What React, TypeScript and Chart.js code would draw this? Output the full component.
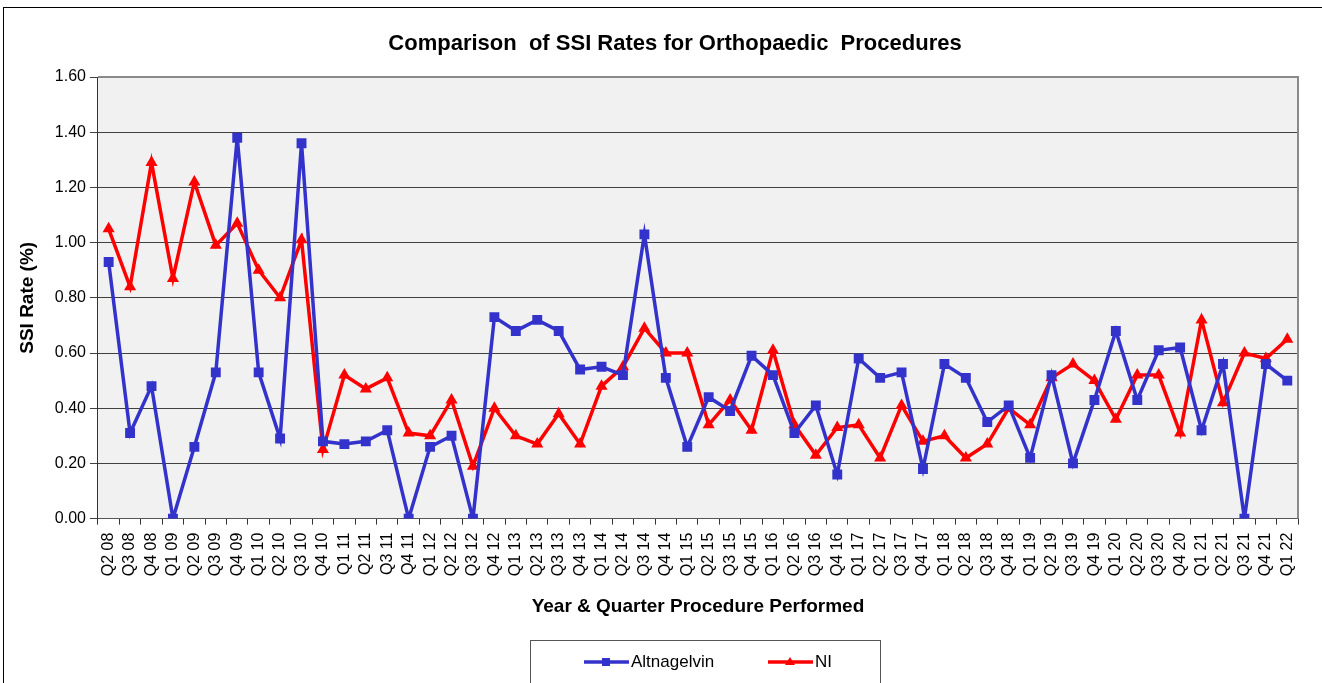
import React, { useEffect, useRef } from "react";
import { Chart, registerables } from "chart.js";

Chart.register(...registerables);

const quarters = [
  "Q2 08", "Q3 08", "Q4 08",
  "Q1 09", "Q2 09", "Q3 09", "Q4 09",
  "Q1 10", "Q2 10", "Q3 10", "Q4 10",
  "Q1 11", "Q2 11", "Q3 11", "Q4 11",
  "Q1 12", "Q2 12", "Q3 12", "Q4 12",
  "Q1 13", "Q2 13", "Q3 13", "Q4 13",
  "Q1 14", "Q2 14", "Q3 14", "Q4 14",
  "Q1 15", "Q2 15", "Q3 15", "Q4 15",
  "Q1 16", "Q2 16", "Q3 16", "Q4 16",
  "Q1 17", "Q2 17", "Q3 17", "Q4 17",
  "Q1 18", "Q2 18", "Q3 18", "Q4 18",
  "Q1 19", "Q2 19", "Q3 19", "Q4 19",
  "Q1 20", "Q2 20", "Q3 20", "Q4 20",
  "Q1 21", "Q2 21", "Q3 21", "Q4 21",
  "Q1 22",
];

const altnagelvin = [
  0.93, 0.31, 0.48,
  0.0, 0.26, 0.53, 1.38,
  0.53, 0.29, 1.36, 0.28,
  0.27, 0.28, 0.32, 0.0,
  0.26, 0.30, 0.0, 0.73,
  0.68, 0.72, 0.68, 0.54,
  0.55, 0.52, 1.03, 0.51,
  0.26, 0.44, 0.39, 0.59,
  0.52, 0.31, 0.41, 0.16,
  0.58, 0.51, 0.53, 0.18,
  0.56, 0.51, 0.35, 0.41,
  0.22, 0.52, 0.20, 0.43,
  0.68, 0.43, 0.61, 0.62,
  0.32, 0.56, 0.0, 0.56,
  0.50,
];

const ni = [
  1.05, 0.84, 1.29,
  0.87, 1.22, 0.99, 1.07,
  0.90, 0.80, 1.01, 0.25,
  0.52, 0.47, 0.51, 0.31,
  0.30, 0.43, 0.19, 0.40,
  0.30, 0.27, 0.38, 0.27,
  0.48, 0.55, 0.69, 0.60,
  0.60, 0.34, 0.43, 0.32,
  0.61, 0.34, 0.23, 0.33,
  0.34, 0.22, 0.41, 0.28,
  0.30, 0.22, 0.27, 0.40,
  0.34, 0.51, 0.56, 0.50,
  0.36, 0.52, 0.52, 0.31,
  0.72, 0.42, 0.60, 0.58,
  0.65,
];

const yTicks = [0, 0.2, 0.4, 0.6, 0.8, 1.0, 1.2, 1.4, 1.6];

const TITLE = "Comparison  of SSI Rates for Orthopaedic  Procedures";
const BLUE = "#3333CC";
const RED = "#FF0000";
const FONT = "'Liberation Sans', Arial, sans-serif";

const plotBgPlugin = {
  id: "plotBg",
  beforeDraw(chart: any) {
    const { ctx, chartArea } = chart;
    if (!chartArea) return;
    ctx.save();
    ctx.fillStyle = "#f1f1f1";
    ctx.fillRect(chartArea.left, chartArea.top, chartArea.right - chartArea.left, chartArea.bottom - chartArea.top);
    ctx.restore();
  },
  afterDatasetsDraw(chart: any) {
    const { ctx, chartArea } = chart;
    ctx.save();
    ctx.strokeStyle = "#8a8a8a";
    ctx.lineWidth = 2;
    ctx.beginPath();
    ctx.moveTo(chartArea.left, chartArea.top);
    ctx.lineTo(chartArea.right, chartArea.top);
    ctx.lineTo(chartArea.right, chartArea.bottom);
    ctx.stroke();
    ctx.restore();
  },
};

const legendBoxPlugin = {
  id: "legendBox",
  afterDraw(chart: any) {
    const { ctx } = chart;
    const bx = 530, by = 640, bw = 350, bh = 46;
    ctx.save();
    ctx.fillStyle = "#ffffff";
    ctx.fillRect(bx, by, bw, bh);
    ctx.strokeStyle = "#555555";
    ctx.lineWidth = 1;
    ctx.strokeRect(bx + 0.5, by + 0.5, bw, bh);
    const items = chart.data.datasets.map((ds: any, i: number) => ({
      label: ds.label,
      color: ds.borderColor,
      style: ds.pointStyle,
      x: i === 0 ? 584 : 768,
    }));
    const cy = 662;
    ctx.font = `17px ${FONT}`;
    ctx.textBaseline = "middle";
    items.forEach((it: any) => {
      ctx.strokeStyle = it.color;
      ctx.fillStyle = it.color;
      ctx.lineWidth = 3.5;
      ctx.beginPath();
      ctx.moveTo(it.x, cy);
      ctx.lineTo(it.x + 45, cy);
      ctx.stroke();
      const mx = it.x + 22;
      if (it.style === "rect") {
        ctx.fillRect(mx - 4, cy - 4, 8, 8);
      } else {
        ctx.beginPath();
        ctx.moveTo(mx, cy - 5);
        ctx.lineTo(mx + 5, cy + 3);
        ctx.lineTo(mx - 5, cy + 3);
        ctx.closePath();
        ctx.fill();
      }
      ctx.fillStyle = "#000";
      ctx.fillText(it.label, it.x + 47, cy);
    });
    ctx.restore();
  },
};

export default function App() {
  const ref = useRef<HTMLCanvasElement>(null);

  useEffect(() => {
    if (!ref.current) return;
    const chart = new Chart(ref.current, {
      type: "line",
      data: {
        labels: quarters,
        datasets: [
          {
            label: "Altnagelvin",
            data: altnagelvin,
            borderColor: BLUE,
            backgroundColor: BLUE,
            borderWidth: 3.5,
            pointStyle: "rect",
            pointRadius: 7,
            pointBorderWidth: 0,
            tension: 0,
          },
          {
            label: "NI",
            data: ni,
            borderColor: RED,
            backgroundColor: RED,
            borderWidth: 3.5,
            pointStyle: "triangle",
            pointRadius: 7,
            pointBorderWidth: 0,
            tension: 0,
          },
        ],
      },
      options: {
        animation: false,
        responsive: false,
        maintainAspectRatio: false,
        layout: { padding: { top: 77, left: 16, right: 24, bottom: 65 } },
        plugins: {
          legend: { display: false },
          tooltip: { enabled: false },
          title: { display: false },
        },
        scales: {
          x: {
            offset: true,
            grid: {
              display: true,
              drawOnChartArea: false,
              offset: true,
              tickLength: 6,
              color: "#333",
            },
            border: { display: true, color: "#555", width: 1 },
            ticks: {
              autoSkip: false,
              maxRotation: 90,
              minRotation: 90,
              color: "#000",
              font: { family: FONT, size: 16 },
              padding: 8,
            },
            title: {
              display: true,
              text: "Year & Quarter Procedure Performed",
              color: "#000",
              font: { family: FONT, size: 19, weight: "bold" },
              padding: { top: 11, bottom: 0 },
            },
          },
          y: {
            min: 0,
            max: 1.6,
            afterBuildTicks(scale: any) {
              scale.ticks = yTicks.map((v) => ({ value: v }));
            },
            grid: {
              color: "#404040",
              lineWidth: 1,
              tickLength: 8,
            },
            border: { display: true, color: "#333", width: 1 },
            ticks: {
              color: "#000",
              font: { family: FONT, size: 16 },
              padding: 4,
              callback: (v: any) => Number(v).toFixed(2),
            },
            title: {
              display: true,
              text: "SSI Rate (%)",
              color: "#000",
              font: { family: FONT, size: 19, weight: "bold" },
              padding: { top: 0, bottom: 12 },
            },
          },
        },
      },
      plugins: [plotBgPlugin, legendBoxPlugin],
    });
    return () => chart.destroy();
  }, []);

  return (
    <div style={{ position: "absolute", left: 0, top: 0, width: 1322, height: 683, background: "#fff", overflow: "hidden" }}>
      <div style={{ position: "absolute", left: 3, top: 7, width: 1330, height: 700, border: "1px solid #000", boxSizing: "border-box" }} />
      <canvas ref={ref} width={1322} height={683} style={{ position: "absolute", left: 0, top: 0 }} />
      <div
        style={{
          position: "absolute",
          left: 0,
          width: 1350,
          top: 29,
          textAlign: "center",
          fontFamily: FONT,
          fontWeight: "bold",
          fontSize: 22,
          lineHeight: "28px",
          whiteSpace: "pre",
          color: "#000",
        }}
      >
        {TITLE}
      </div>
    </div>
  );
}
